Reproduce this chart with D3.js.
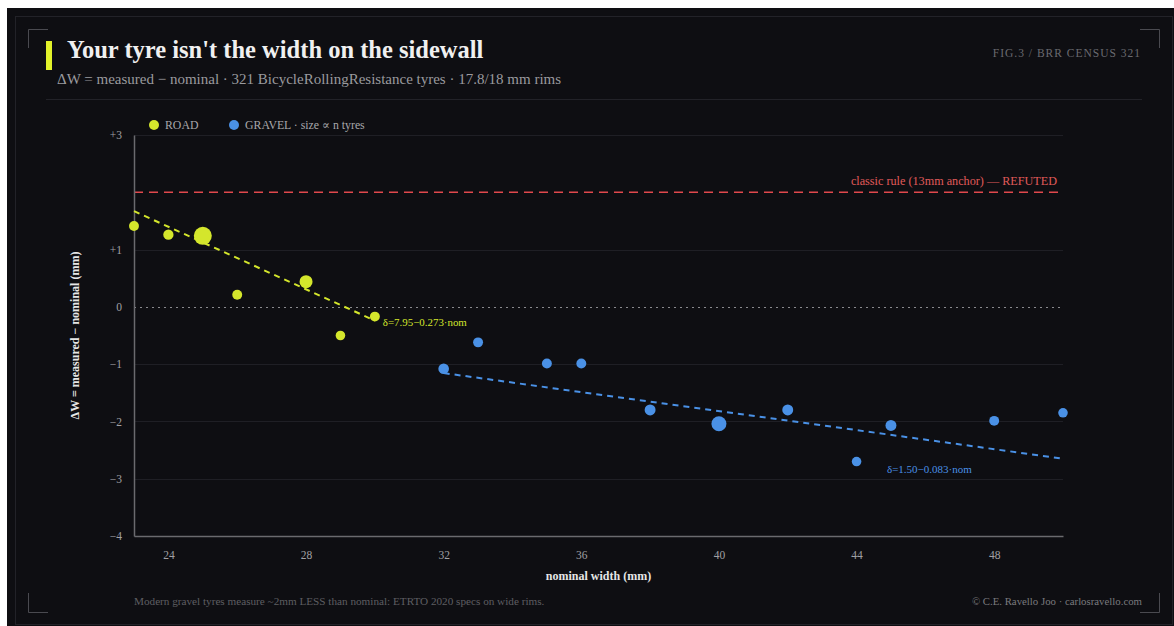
<!DOCTYPE html>
<html>
<head>
<meta charset="utf-8">
<script src="https://cdn.jsdelivr.net/npm/d3@7"></script>
<style>
  html, body { margin: 0; padding: 0; background: #fff; }
  svg { display: block; font-family: "Liberation Serif", "DejaVu Serif", serif; }
</style>
</head>
<body>
<div id="viz"></div>
<script>
const width = 1174,
    height = 626;

// nominal width (mm), deviation (mm), n tyres
const roadNominal = [23, 24, 25, 26, 28, 29, 30];
const roadDelta = [1.41, 1.26, 1.24, 0.21, 0.44, -0.50, -0.17];
const roadCount = [14, 15, 46, 14, 24, 13, 14];

const gravelNominal = [32, 33, 35, 36, 38, 40, 42, 44, 45, 48, 50];
const gravelDelta = [-1.08, -0.62, -0.99, -0.99, -1.80, -2.04, -1.80, -2.70, -2.07, -1.99, -1.85];
const gravelCount = [16, 14, 14, 14, 17, 32, 17, 13, 17, 14, 13];

const roadFit = [7.95, -0.273];
const gravelFit = [1.50, -0.083];
const classicRule = 2.0;

const xTicks = [24, 28, 32, 36, 40, 44, 48];
const yTicks = [3, 1, 0, -1, -2, -3, -4];
const gridTicks = [3, 1, -1, -2, -3];

const ROAD = "#d4e62c",
    GRAVEL = "#4a91e6",
    RED = "#e0484c";

const margin = { left: 134, right: 111, top: 135, bottom: 90 };

const svg = d3.select("#viz").append("svg")
    .attr("width", width)
    .attr("height", height);

// card
svg.append("rect").attr("x", 7).attr("y", 8).attr("width", width).attr("height", height)
    .attr("fill", "#0e0e12");
svg.append("rect").attr("x", 15.5).attr("y", 16.5).attr("width", 1157).attr("height", 608)
    .attr("fill", "none").attr("stroke", "#222228");

// corner brackets
const brackets = [
    "M28.5,48 V29.5 H48",
    "M1140,29.5 H1159.5 V48",
    "M28.5,593 V612.5 H48",
    "M1140,612.5 H1159.5 V593"
];
svg.selectAll(".bracket").data(brackets).enter().append("path")
    .attr("d", d => d)
    .attr("fill", "none")
    .attr("stroke", "#4a4a50");

// header
svg.append("rect").attr("x", 46).attr("y", 41).attr("width", 6).attr("height", 29).attr("fill", "#e2f22a");
svg.append("text").attr("x", 67).attr("y", 58)
    .attr("fill", "#f0f0f0").attr("font-size", 24.5).attr("font-weight", 700)
    .text("Your tyre isn't the width on the sidewall");
svg.append("text").attr("x", 57).attr("y", 84)
    .attr("fill", "#9a9a9e").attr("font-size", 15)
    .text("ΔW = measured − nominal · 321 BicycleRollingResistance tyres · 17.8/18 mm rims");
svg.append("text").attr("x", 1141).attr("y", 57).attr("text-anchor", "end")
    .attr("fill", "#6a6a70").attr("font-size", 11.5).attr("letter-spacing", 1)
    .text("FIG.3 / BRR CENSUS 321");
svg.append("line").attr("x1", 46).attr("x2", 1142).attr("y1", 99.5).attr("y2", 99.5)
    .attr("stroke", "#222228");

// scales
const x = d3.scaleLinear()
    .domain([23, 50])
    .range([margin.left, width - margin.right]);

const y = d3.scaleLinear()
    .domain([-4, 3])
    .range([height - margin.bottom, margin.top]);

const r = d3.scaleSqrt()
    .domain([0, d3.max(roadCount.concat(gravelCount))])
    .range([0, 9]);

const plot = svg.append("g");

// grid
plot.selectAll(".grid").data(gridTicks).enter().append("line")
    .attr("x1", x(23)).attr("x2", x(50))
    .attr("y1", d => Math.round(y(d)) + 0.5).attr("y2", d => Math.round(y(d)) + 0.5)
    .attr("stroke", "#1f1f25");

// zero line
plot.append("line")
    .attr("x1", x(23)).attr("x2", x(50))
    .attr("y1", Math.round(y(0)) + 0.5).attr("y2", Math.round(y(0)) + 0.5)
    .attr("stroke", "#8a8a8e").attr("stroke-width", 1.2).attr("stroke-dasharray", "2,4");

// classic rule
plot.append("line")
    .attr("x1", x(23)).attr("x2", x(50))
    .attr("y1", y(classicRule)).attr("y2", y(classicRule))
    .attr("stroke", RED).attr("stroke-width", 1.5).attr("stroke-dasharray", "9,6");
plot.append("text").attr("x", x(50) - 6).attr("y", y(classicRule) - 7)
    .attr("text-anchor", "end").attr("fill", "#e05a5a").attr("font-size", 12.2)
    .text("classic rule (13mm anchor) — REFUTED");

// axes
const yAxis = d3.axisLeft(y)
    .tickValues(yTicks)
    .tickSize(0)
    .tickPadding(12)
    .tickFormat(d => d === 0 ? "0" : d3.format("+")(d));

const xAxis = d3.axisBottom(x)
    .tickValues(xTicks)
    .tickSize(0)
    .tickPadding(15);

const gy = plot.append("g")
    .attr("transform", "translate(" + margin.left + ",0)")
    .call(yAxis);
const gx = plot.append("g")
    .attr("transform", "translate(0," + (height - margin.bottom) + ")")
    .call(xAxis);

[gx, gy].forEach(g => {
    g.select(".domain").attr("stroke", "#6a6a6e").attr("stroke-width", 1.5);
    g.selectAll("text").attr("fill", "#a0a0a4").attr("font-size", 11.5)
        .attr("font-family", "Liberation Serif, DejaVu Serif, serif");
});

// fit lines
function fitLine(fit, xs, color) {
    const ends = d3.extent(xs);
    plot.append("line")
        .attr("x1", x(ends[0])).attr("y1", y(fit[0] + fit[1] * ends[0]))
        .attr("x2", x(ends[1])).attr("y2", y(fit[0] + fit[1] * ends[1]))
        .attr("stroke", color).attr("stroke-width", 2).attr("stroke-dasharray", "6,5");
}
fitLine(roadFit, roadNominal, ROAD);
fitLine(gravelFit, gravelNominal, GRAVEL);

plot.append("text").attr("x", x(30) + 8).attr("y", y(-0.17) + 9)
    .attr("fill", ROAD).attr("font-size", 10.9)
    .text("δ=7.95−0.273·nom");
plot.append("text").attr("x", x(45) - 4).attr("y", y(-2.9))
    .attr("fill", GRAVEL).attr("font-size", 11)
    .text("δ=1.50−0.083·nom");

// points
function points(xs, ds, ns, color) {
    plot.append("g").selectAll("circle")
        .data(xs.map((v, i) => ({ nom: v, delta: ds[i], n: ns[i] })))
        .enter().append("circle")
        .attr("cx", d => x(d.nom))
        .attr("cy", d => y(d.delta))
        .attr("r", d => r(d.n))
        .attr("fill", color);
}
points(roadNominal, roadDelta, roadCount, ROAD);
points(gravelNominal, gravelDelta, gravelCount, GRAVEL);

// legend
const legend = svg.append("g").attr("font-size", 11.8).attr("fill", "#a8a8ac");
legend.append("circle").attr("cx", 154).attr("cy", 125).attr("r", 5).attr("fill", ROAD);
legend.append("text").attr("x", 165).attr("y", 129).text("ROAD");
legend.append("circle").attr("cx", 234).attr("cy", 125).attr("r", 5).attr("fill", GRAVEL);
legend.append("text").attr("x", 245).attr("y", 129).text("GRAVEL · size ∝ n tyres");

// axis titles
svg.append("text")
    .attr("x", (x(23) + x(50)) / 2).attr("y", 580)
    .attr("text-anchor", "middle").attr("fill", "#e6e6e6")
    .attr("font-size", 12).attr("font-weight", 700)
    .text("nominal width (mm)");
svg.append("text")
    .attr("transform", "translate(79," + (y(3) + y(-4)) / 2 + ") rotate(-90)")
    .attr("text-anchor", "middle").attr("fill", "#e6e6e6")
    .attr("font-size", 12).attr("font-weight", 700)
    .text("ΔW = measured − nominal (mm)");

// footer
svg.append("text").attr("x", 134).attr("y", 605)
    .attr("fill", "#5e5e62").attr("font-size", 11.2)
    .text("Modern gravel tyres measure ~2mm LESS than nominal: ETRTO 2020 specs on wide rims.");
svg.append("text").attr("x", 1142).attr("y", 605).attr("text-anchor", "end")
    .attr("fill", "#7a7a7e").attr("font-size", 10.8)
    .text("© C.E. Ravello Joo · carlosravello.com");
</script>
</body>
</html>
